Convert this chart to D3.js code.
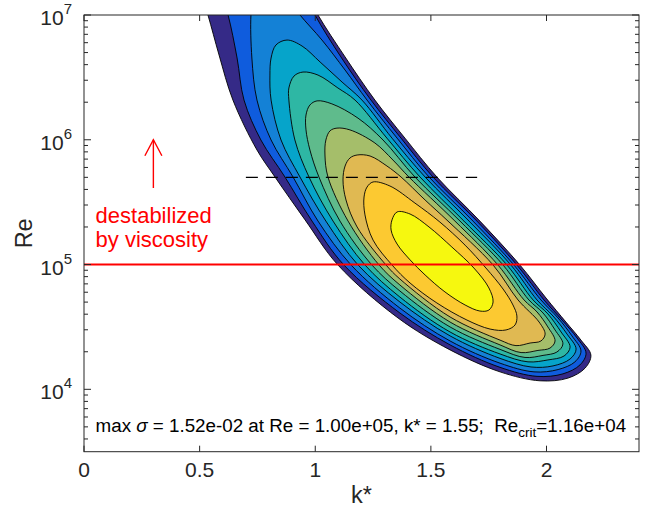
<!DOCTYPE html>
<html>
<head>
<meta charset="utf-8">
<script src="https://cdn.jsdelivr.net/npm/d3@7"></script>
<style>
  body { margin: 0; background: #fff; }
  svg { display: block; }
  text { font-family: "Liberation Sans", Arial, Helvetica, sans-serif; }
</style>
</head>
<body>
<svg id="chart" width="649" height="509"></svg>
<script>
// ---- axis data ----
const xDomain = [0, 2.4];
const yDomain = [3162.3, 1e7];
const xTicks = [0, 0.5, 1, 1.5, 2];
const yTicks = [1e4, 1e5, 1e6, 1e7];
const yTickExponents = ["4", "5", "6", "7"];

// ---- growth-rate contours: closed outlines [k*, Re], outermost level first ----
const level1 = [[0.502,1.59e7],[0.536,1e7],[0.584,4.78e6],[0.644,2.08e6],[0.748,8.28e5],[0.826,5.03e5],[0.956,2.28e5],[1.098,9.92e4],[1.358,3.73e4],[1.583,2.07e4],[1.799,1.38e4],[1.972,1.17e4],[2.093,1.23e4],[2.167,1.48e4],[2.192,1.88e4],[2.149,2.48e4],[2.084,3.46e4],[1.998,5.39e4],[1.885,9.92e4],[1.712,2.23e5],[1.526,5.03e5],[1.388,1.03e6],[1.258,2.08e6],[1.129,4.61e6],[1.012,1e7],[0.956,1.59e7]];
const level2 = [[0.588,1.59e7],[0.623,1e7],[0.662,4.52e6],[0.692,2.08e6],[0.765,9.96e5],[0.869,5.03e5],[0.986,2.23e5],[1.124,9.92e4],[1.366,4.09e4],[1.583,2.27e4],[1.799,1.50e4],[1.959,1.27e4],[2.071,1.33e4],[2.145,1.57e4],[2.171,1.95e4],[2.132,2.58e4],[2.067,3.59e4],[1.989,5.20e4],[1.872,9.92e4],[1.699,2.23e5],[1.509,5.03e5],[1.371,1.03e6],[1.241,2.08e6],[1.111,4.61e6],[0.999,1e7],[0.947,1.59e7]];
const level3 = [[0.804,1.56e7],[0.731,1.32e7],[0.722,1e7],[0.726,4.52e6],[0.748,2.08e6],[0.809,9.96e5],[0.904,5.03e5],[1.012,2.23e5],[1.155,9.92e4],[1.366,4.48e4],[1.583,2.44e4],[1.799,1.62e4],[1.946,1.38e4],[2.050,1.44e4],[2.123,1.66e4],[2.149,2.03e4],[2.110,2.68e4],[2.050,3.73e4],[1.976,5.20e4],[1.859,9.92e4],[1.682,2.23e5],[1.492,5.03e5],[1.354,1.03e6],[1.224,2.08e6],[1.129,3.62e6],[1.029,6.30e6],[0.934,1e7],[0.886,1.32e7]];
const level4 = [[0.878,6.30e6],[0.830,5.75e6],[0.809,4.52e6],[0.804,3.30e6],[0.809,2.08e6],[0.852,9.96e5],[0.934,5.03e5],[1.046,2.23e5],[1.185,9.92e4],[1.366,5.01e4],[1.583,2.68e4],[1.799,1.77e4],[1.933,1.51e4],[2.028,1.54e4],[2.102,1.75e4],[2.128,2.10e4],[2.089,2.77e4],[2.028,3.87e4],[1.959,5.20e4],[1.846,9.92e4],[1.665,2.23e5],[1.475,5.03e5],[1.332,1.03e6],[1.202,2.08e6],[1.116,2.90e6],[1.021,4.20e6],[0.943,5.64e6]];
const level5 = [[0.947,3.49e6],[0.908,3.24e6],[0.886,2.60e6],[0.886,2.08e6],[0.912,9.96e5],[0.973,5.03e5],[1.077,2.23e5],[1.215,9.92e4],[1.366,5.49e4],[1.583,2.88e4],[1.799,1.92e4],[1.920,1.66e4],[2.006,1.72e4],[2.076,1.85e4],[2.102,2.18e4],[2.063,2.88e4],[2.006,4.02e4],[1.942,5.20e4],[1.829,9.92e4],[1.643,2.23e5],[1.453,5.03e5],[1.310,1.03e6],[1.172,2.08e6],[1.098,2.60e6],[1.012,3.30e6]];
const level6 = [[1.008,2.05e6],[0.977,1.90e6],[0.960,1.58e6],[0.960,1.20e6],[0.977,8.28e5],[1.016,5.03e5],[1.107,2.23e5],[1.245,9.92e4],[1.366,6.14e4],[1.583,3.16e4],[1.799,2.09e4],[1.907,1.80e4],[1.985,1.87e4],[2.045,1.99e4],[2.071,2.31e4],[2.037,2.99e4],[1.985,4.09e4],[1.924,5.20e4],[1.812,9.92e4],[1.626,2.23e5],[1.431,5.03e5],[1.293,9.96e5],[1.185,1.49e6],[1.072,1.94e6]];
const level7 = [[1.094,1.24e6],[1.064,1.18e6],[1.046,9.96e5],[1.042,7.55e5],[1.055,5.03e5],[1.142,2.23e5],[1.276,9.92e4],[1.366,6.86e4],[1.583,3.46e4],[1.799,2.27e4],[1.890,1.97e4],[1.963,2.05e4],[2.015,2.14e4],[2.037,2.44e4],[2.006,3.16e4],[1.959,4.17e4],[1.903,5.20e4],[1.790,9.92e4],[1.604,2.23e5],[1.405,5.03e5],[1.336,6.88e5],[1.258,9.42e5],[1.150,1.20e6]];
const level8 = [[1.181,7.55e5],[1.150,7.14e5],[1.129,6.16e5],[1.120,4.76e5],[1.133,3.29e5],[1.181,2.00e5],[1.306,9.92e4],[1.366,7.66e4],[1.583,3.80e4],[1.799,2.48e4],[1.868,2.24e4],[1.929,2.35e4],[1.976,2.44e4],[1.994,2.77e4],[1.968,3.46e4],[1.877,5.20e4],[1.769,9.92e4],[1.574,2.23e5],[1.475,3.29e5],[1.371,5.03e5],[1.310,6.16e5],[1.237,7.41e5]];
const level9 = [[1.250,4.59e5],[1.224,4.18e5],[1.211,3.48e5],[1.215,2.50e5],[1.250,1.57e5],[1.332,9.92e4],[1.410,7.11e4],[1.526,4.92e4],[1.656,3.59e4],[1.756,3.04e4],[1.825,2.99e4],[1.864,3.28e4],[1.872,3.87e4],[1.855,4.74e4],[1.812,6.37e4],[1.738,9.38e4],[1.648,1.43e5],[1.539,2.19e5],[1.431,3.11e5],[1.323,4.26e5]];
const level10 = [[1.354,2.64e5],[1.332,2.28e5],[1.328,1.89e5],[1.354,1.46e5],[1.410,1.09e5],[1.475,8.25e4],[1.561,6.03e4],[1.648,4.74e4],[1.712,4.24e4],[1.751,4.32e4],[1.769,5.01e4],[1.751,6.49e4],[1.686,9.38e4],[1.591,1.38e5],[1.492,2.00e5],[1.410,2.54e5]];

const contourLevels = [level1, level2, level3, level4, level5, level6, level7, level8, level9, level10];
const levelColors = ["#352a87", "#0f5cdd", "#1481d6", "#06a4ca", "#2eb7a4", "#5fbb8c", "#a5be6a", "#e0b952", "#fcc931", "#f6f80f"];

// ---- reference lines and notes ----
const ReViscous = 1e5;             // solid red line
const ReDashed = 5e5;              // dashed black line
const kDashed = [0.7, 1.7];
const arrowK = 0.3;
const arrowRe = [4.1e5, 1e6];
const noteLines = ["destabilized", "by viscosity"];
const noteK = 0.05;
const noteRe = 2.16e5;
const maxSigma = "1.52e-02", maxRe = "1.00e+05", maxK = "1.55", ReCrit = "1.16e+04";

// ---- layout ----
const svg = d3.select("#chart");
const plot = { left: 84, right: 639, top: 15, bottom: 451.7 };
const x = d3.scaleLinear().domain(xDomain).range([plot.left, plot.right]);
const y = d3.scaleLog().domain(yDomain).range([plot.bottom, plot.top]);

svg.append("rect").attr("width", 649).attr("height", 509).attr("fill", "#fff");

svg.append("defs").append("clipPath").attr("id", "plotClip")
  .append("rect")
  .attr("x", plot.left).attr("y", plot.top)
  .attr("width", plot.right - plot.left).attr("height", plot.bottom - plot.top);

const inner = svg.append("g").attr("clip-path", "url(#plotClip)");

// filled contour bands
const outline = d3.line()
  .x(d => x(d[0]))
  .y(d => y(d[1]))
  .curve(d3.curveCatmullRomClosed.alpha(0.5));

inner.selectAll("path.band")
  .data(contourLevels)
  .join("path")
  .attr("class", "band")
  .attr("d", outline)
  .attr("fill", (d, i) => levelColors[i])
  .attr("stroke", "#000")
  .attr("stroke-width", 0.9)
  .attr("stroke-linejoin", "round");

// dashed line
inner.append("line")
  .attr("x1", x(kDashed[0])).attr("x2", x(kDashed[1]))
  .attr("y1", y(ReDashed)).attr("y2", y(ReDashed))
  .attr("stroke", "#000").attr("stroke-width", 1.3)
  .attr("stroke-dasharray", "12,8");

// red line
inner.append("line")
  .attr("x1", plot.left).attr("x2", plot.right)
  .attr("y1", y(ReViscous)).attr("y2", y(ReViscous))
  .attr("stroke", "#ff0000").attr("stroke-width", 2);

// arrow
const ax = x(arrowK), ay0 = y(arrowRe[0]), ay1 = y(arrowRe[1]);
inner.append("line")
  .attr("x1", ax).attr("x2", ax).attr("y1", ay0).attr("y2", ay1)
  .attr("stroke", "#ff0000").attr("stroke-width", 1.4);
inner.append("polyline")
  .attr("points", [[ax - 8.5, ay1 + 16], [ax, ay1], [ax + 8.5, ay1 + 16]].map(p => p.join(",")).join(" "))
  .attr("fill", "none").attr("stroke", "#ff0000").attr("stroke-width", 1.4);

// note text
const note = svg.append("text")
  .attr("x", x(noteK)).attr("y", y(noteRe))
  .attr("fill", "#ff0000").attr("font-size", 22);
note.selectAll("tspan").data(noteLines).join("tspan")
  .attr("x", x(noteK)).attr("dy", (d, i) => i === 0 ? 0 : 24)
  .text(d => d);

// summary line
const summary = svg.append("text")
  .attr("x", x(noteK)).attr("y", 431.5)
  .attr("font-size", 18.8).attr("fill", "#000")
  .style("white-space", "pre");
summary.append("tspan").text("max ");
summary.append("tspan").attr("font-style", "italic").text("σ");
summary.append("tspan").text(` = ${maxSigma} at Re = ${maxRe}, k* = ${maxK};  Re`);
summary.append("tspan").attr("font-size", 13.5).attr("dy", 5).text("crit");
summary.append("tspan").attr("dy", -5).text(`=${ReCrit}`);

// axes box
const axisColor = "#262626";
svg.append("rect")
  .attr("x", plot.left).attr("y", plot.top)
  .attr("width", plot.right - plot.left).attr("height", plot.bottom - plot.top)
  .attr("fill", "none").attr("stroke", axisColor).attr("stroke-width", 1);

// x ticks (inside, bottom and top)
const xt = svg.append("g");
xTicks.forEach(t => {
  const px = x(t);
  xt.append("line").attr("x1", px).attr("x2", px).attr("y1", plot.bottom).attr("y2", plot.bottom - 6).attr("stroke", axisColor);
  xt.append("line").attr("x1", px).attr("x2", px).attr("y1", plot.top).attr("y2", plot.top + 6).attr("stroke", axisColor);
  xt.append("text").attr("x", px).attr("y", 477).attr("text-anchor", "middle")
    .attr("font-size", 21).attr("fill", axisColor).text(d3.format("")(t));
});

// y ticks: majors with labels, minors from the log scale
const yt = svg.append("g");
const minor = y.ticks().filter(v => !yTicks.includes(v));
minor.forEach(v => {
  const py = y(v);
  yt.append("line").attr("x1", plot.left).attr("x2", plot.left + 4).attr("y1", py).attr("y2", py).attr("stroke", axisColor);
  yt.append("line").attr("x1", plot.right).attr("x2", plot.right - 4).attr("y1", py).attr("y2", py).attr("stroke", axisColor);
});
yTicks.forEach((v, i) => {
  const py = y(v);
  yt.append("line").attr("x1", plot.left).attr("x2", plot.left + 7).attr("y1", py).attr("y2", py).attr("stroke", axisColor);
  yt.append("line").attr("x1", plot.right).attr("x2", plot.right - 7).attr("y1", py).attr("y2", py).attr("stroke", axisColor);
  const lab = yt.append("text").attr("x", 72).attr("y", py + 10).attr("text-anchor", "end")
    .attr("font-size", 21).attr("fill", axisColor);
  lab.append("tspan").text("10");
  lab.append("tspan").attr("font-size", 15).attr("dy", -11).text(yTickExponents[i]);
});

// axis labels
svg.append("text").attr("x", (plot.left + plot.right) / 2).attr("y", 503)
  .attr("text-anchor", "middle").attr("font-size", 23.5).attr("fill", axisColor).text("k*");
svg.append("text")
  .attr("transform", `translate(32,${(plot.top + plot.bottom) / 2}) rotate(-90)`)
  .attr("text-anchor", "middle").attr("font-size", 23.5).attr("fill", axisColor).text("Re");
</script>
</body>
</html>
